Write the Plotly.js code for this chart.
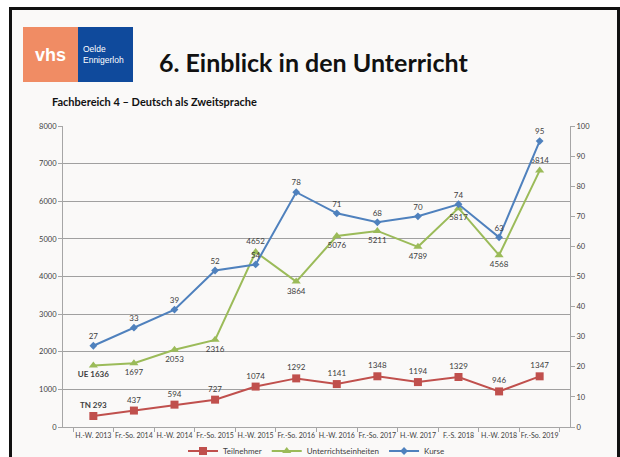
<!DOCTYPE html>
<html>
<head>
<meta charset="utf-8">
<script src="https://cdn.plot.ly/plotly-3.0.1.min.js"></script>
<style>
  html, body { margin: 0; padding: 0; background: #ffffff; overflow: hidden; }
  #frame { position: absolute; left: 9px; top: 7px; width: 605px; height: 470px;
           border: 3px solid #111; background: #FAF9F8; }
  #chart { position: absolute; left: 0; top: 0; width: 620px; height: 457px; }
</style>
</head>
<body>
<div id="frame"></div>
<div id="chart"></div>
<script>
const categories = ["H.-W. 2013","Fr.-So. 2014","H.-W. 2014","Fr.-So. 2015","H.-W. 2015","Fr.-So. 2016","H.-W. 2016","Fr.-So. 2017","H.-W. 2017","F.-S. 2018","H.-W. 2018","Fr.-So. 2019"];
const teilnehmer = [293, 437, 594, 727, 1074, 1292, 1141, 1348, 1194, 1329, 946, 1347];
const unterrichtseinheiten = [1636, 1697, 2053, 2316, 4652, 3864, 5076, 5211, 4789, 5817, 4568, 6814];
const kurse = [27, 33, 39, 52, 54, 78, 71, 68, 70, 74, 63, 95];

const FONT = "Lato, 'Open Sans', sans-serif";
const txtCol = "#404040";

const tnText = teilnehmer.map((v, i) => i === 0 ? "<b>TN " + v + "</b>" : String(v));
const ueText = unterrichtseinheiten.map((v, i) => i === 0 ? "<b>UE " + v + "</b>" : String(v));
const ueTop = [4, 11];
const uePos = unterrichtseinheiten.map((v, i) => ueTop.includes(i) ? "top center" : "bottom center");

const traces = [
  {
    x: categories, y: teilnehmer, name: "Teilnehmer", type: "scatter", mode: "lines+markers+text",
    line: {color: "#C0504D", width: 2}, marker: {symbol: "square", size: 8, color: "#C0504D"},
    text: tnText, textposition: "top center", textfont: {family: FONT, size: 8, color: txtCol},
    cliponaxis: false
  },
  {
    x: categories, y: unterrichtseinheiten, name: "Unterrichtseinheiten", type: "scatter", mode: "lines+markers+text",
    line: {color: "#9BBB59", width: 2}, marker: {symbol: "triangle-up", size: 8, color: "#9BBB59"},
    text: ueText, textposition: uePos, textfont: {family: FONT, size: 8, color: txtCol},
    cliponaxis: false
  },
  {
    x: categories, y: kurse, name: "Kurse", type: "scatter", mode: "lines+markers+text", yaxis: "y2",
    line: {color: "#4F81BD", width: 2}, marker: {symbol: "diamond", size: 6, color: "#4F81BD"},
    text: kurse.map(String), textposition: "top center", textfont: {family: FONT, size: 8, color: txtCol},
    cliponaxis: false
  }
];

const L = 63, R = 570, T = 126, B = 427;
const px = v => (v - L) / (R - L);
const py = v => (B - v) / (B - T);

const layout = {
  width: 620, height: 457,
  margin: {l: L, r: 620 - R, t: T, b: 457 - B, pad: 0, autoexpand: false},
  paper_bgcolor: "rgba(0,0,0,0)", plot_bgcolor: "rgba(0,0,0,0)",
  font: {family: FONT, color: txtCol, size: 8},
  showlegend: true,
  legend: {orientation: "h", x: 0.5, xanchor: "center", y: py(451), yanchor: "middle",
           font: {family: FONT, size: 8, color: txtCol}, bgcolor: "rgba(0,0,0,0)", itemwidth: 30, tracegroupgap: 0},
  xaxis: {
    type: "category", showgrid: false, showline: true, linecolor: "#A6A6A6", linewidth: 1,
    ticks: "outside", tickson: "boundaries", ticklen: 4, tickcolor: "#A6A6A6",
    tickfont: {family: FONT, size: 7, color: txtCol}, tickangle: 0, fixedrange: true, ticklabelstandoff: 2
  },
  yaxis: {
    range: [0, 8000], dtick: 1000, showgrid: true, gridcolor: "#A0A0A0", gridwidth: 1,
    showline: true, linecolor: "#A6A6A6", ticks: "outside", ticklen: 4, tickcolor: "#A6A6A6",
    tickfont: {family: FONT, size: 7.5, color: txtCol}, zeroline: false
  },
  yaxis2: {
    overlaying: "y", side: "right", range: [0, 100], dtick: 10, showgrid: false,
    showline: true, linecolor: "#A6A6A6", ticks: "outside", ticklen: 4, tickcolor: "#A6A6A6",
    tickfont: {family: FONT, size: 7.5, color: txtCol}, zeroline: false
  },
  title: {
    text: "<b>6. Einblick in den Unterricht</b>", font: {family: FONT, size: 25, color: "#111"},
    x: 159 / 620, xanchor: "left", xref: "container", y: 1 - 63 / 457, yanchor: "middle", yref: "container"
  },
  shapes: [
    {type: "rect", xref: "paper", yref: "paper", x0: px(23), x1: px(78), y0: py(82), y1: py(27),
     fillcolor: "#F08C64", line: {width: 0}},
    {type: "rect", xref: "paper", yref: "paper", x0: px(78), x1: px(133), y0: py(82), y1: py(27),
     fillcolor: "#0F4A9C", line: {width: 0}}
  ],
  annotations: [
    {xref: "paper", yref: "paper", x: px(50.5), y: py(54.5), text: "<b>vhs</b>", showarrow: false,
     font: {family: "'Liberation Sans', Arial, sans-serif", size: 18, color: "#fff"}, xanchor: "center", yanchor: "middle"},
    {xref: "paper", yref: "paper", x: px(81), y: py(55), text: "Oelde<br>Ennigerloh", showarrow: false, align: "left",
     font: {family: "'Liberation Sans Narrow', 'Liberation Sans', sans-serif", size: 8.5, color: "#fff"}, xanchor: "left", yanchor: "middle"},
    {xref: "paper", yref: "paper", x: px(50), y: py(101), text: "<b>Fachbereich 4 – Deutsch als Zweitsprache</b>", showarrow: false,
     font: {family: FONT, size: 11, color: "#111"}, xanchor: "left", yanchor: "middle"}
  ]
};

Plotly.newPlot("chart", traces, layout, {displayModeBar: false, staticPlot: true});
</script>
</body>
</html>
